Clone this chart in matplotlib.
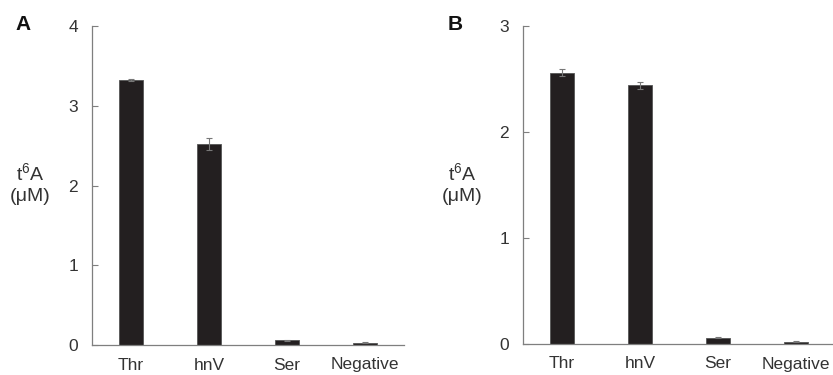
import matplotlib
matplotlib.use("Agg")
import matplotlib.pyplot as plt

# data
categories = ["Thr", "hnV", "Ser", "Negative"]
a_values = [3.32, 2.52, 0.06, 0.03]
a_errors = [0.01, 0.08, 0.005, 0.005]
b_values = [2.56, 2.44, 0.06, 0.02]
b_errors = [0.03, 0.03, 0.005, 0.005]

plt.rcParams['font.family'] = ['Liberation Sans', 'DejaVu Sans']
plt.rcParams['mathtext.fontset'] = 'custom'
plt.rcParams['mathtext.rm'] = 'Liberation Sans'
plt.rcParams['mathtext.it'] = 'Liberation Sans'

W, H = 833, 375
fig = plt.figure(figsize=(W / 100, H / 100), dpi=100)

text_col = '#333333'
axis_col = '#7f7f7f'
bar_col = '#231f20'


def panel(left_px, bottom_px, top_px, values, errors, ymax, letter, letter_x, label_x):
    ax = fig.add_axes([left_px / W, (H - bottom_px) / H, 312 / W, (bottom_px - top_px) / H])
    x = list(range(len(categories)))
    ax.bar(x, values, width=0.31, color=bar_col, edgecolor='#555555', linewidth=0.6,
           yerr=errors, error_kw=dict(ecolor='#777777', elinewidth=0.8, capsize=2, capthick=0.8))
    ax.set_xlim(-0.5, 3.5)
    ax.set_ylim(0, ymax)
    ax.set_yticks(range(ymax + 1))
    ax.set_xticks(x)
    ax.set_xticklabels(categories)
    for s in ['top', 'right']:
        ax.spines[s].set_visible(False)
    for s in ['left', 'bottom']:
        ax.spines[s].set_color(axis_col)
        ax.spines[s].set_linewidth(0.9)
    ax.tick_params(axis='y', direction='in', length=4, width=0.8, color=axis_col,
                   pad=10, labelsize=12.5, labelcolor=text_col)
    ax.tick_params(axis='x', length=0, pad=9, labelsize=12.5, labelcolor=text_col)
    fig.text(letter_x / W, 1 - 24 / H, letter, fontsize=15, fontweight='bold',
             ha='center', va='center', color='#111111')
    fig.text(label_x / W, 1 - 184 / H, "t$^{\\mathrm{6}}$A\n(\u03bcM)", fontsize=14,
             ha='center', va='center', color=text_col, linespacing=1.3)
    return ax


panel(92, 345, 26, a_values, a_errors, 4, "A", 23, 30)
panel(523, 344, 26, b_values, b_errors, 3, "B", 455, 462)

fig.savefig("out.png", dpi=100)
